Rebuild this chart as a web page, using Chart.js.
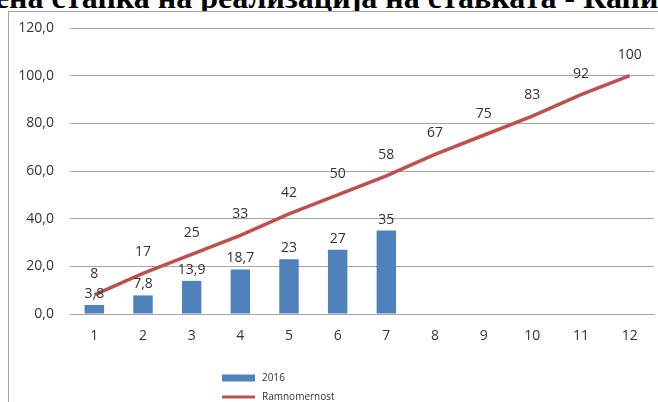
<!DOCTYPE html>
<html>
<head>
<meta charset="utf-8">
<script src="https://cdn.jsdelivr.net/npm/chart.js@4/dist/chart.umd.min.js"></script>
<style>
  html, body { margin:0; padding:0; background:#fff; }
  body { width:658px; height:402px; position:relative; overflow:hidden; }
  #title { position:absolute; left:-111px; top:-23px; white-space:nowrap; line-height:40px;
    font-family:"Liberation Serif", serif; font-weight:bold; font-size:32px; color:#000; }
  #frame { position:absolute; left:8px; top:11px; width:700px; height:420px;
    border-left:1px solid #a6a6a6; border-top:1px solid #a6a6a6; background:#fff; }
  #wrap { position:absolute; left:0; top:0; width:658px; height:402px; }
</style>
</head>
<body>
<div id="title">Остварена стапка на реализација на ставката - Капитални расходи</div>
<div id="frame"></div>
<div id="wrap"><canvas id="c"></canvas></div>
<script>
// meseci 1-12
const meseci = ['1','2','3','4','5','6','7','8','9','10','11','12'];
// realizacija 2016 (samo prvite 7 meseci)
const realizacija2016 = [3.8, 7.8, 13.9, 18.7, 23, 27, 35];
// ramnomerna dinamika
const ramnomernost = [8, 17, 25, 33, 42, 50, 58, 67, 75, 83, 92, 100];
const yTicks = [0, 20, 40, 60, 80, 100, 120];

const fmt = v => String(v).replace('.', ',');

// labeli nad stolbovite i linijata
const labeli = {
  id: 'labeli',
  afterDatasetsDraw(chart) {
    const ctx = chart.ctx;
    ctx.save();
    ctx.font = '14px "Open Sans", sans-serif';
    ctx.fillStyle = '#333';
    ctx.textAlign = 'center';
    ctx.textBaseline = 'bottom';
    chart.data.datasets.forEach((ds, di) => {
      const meta = chart.getDatasetMeta(di);
      meta.data.forEach((el, i) => {
        const off = ds.type === 'line' ? 14 : 4;
        ctx.fillText(fmt(ds.data[i]), el.x, el.y - off);
      });
    });
    ctx.restore();
  }
};

// legenda vo dva reda pod grafikot (prvo stolbovi, pa linija)
const legenda = {
  id: 'legenda',
  afterDraw(chart) {
    const ctx = chart.ctx;
    ctx.save();
    ctx.font = '10px "Open Sans", sans-serif';
    ctx.textBaseline = 'middle';
    const x = 222;
    const redovi = chart.data.datasets.slice().sort((a, b) => b.order - a.order);
    redovi.forEach((ds, i) => {
      const y = 378 + i * 19;
      if (ds.type === 'line') {
        ctx.strokeStyle = ds.borderColor;
        ctx.lineWidth = 3;
        ctx.beginPath(); ctx.moveTo(x, y); ctx.lineTo(x + 33, y); ctx.stroke();
      } else {
        ctx.fillStyle = ds.backgroundColor;
        ctx.fillRect(x, y - 3.5, 33, 7);
      }
      ctx.fillStyle = '#333';
      ctx.fillText(ds.label, x + 40, y);
    });
    ctx.restore();
  }
};

new Chart(document.getElementById('c'), {
  type: 'bar',
  data: {
    labels: meseci,
    datasets: [
      { type:'line', label:'Ramnomernost', data: ramnomernost, borderColor:'#c0504d',
        borderWidth:3.5, pointRadius:0, tension:0, order:0 },
      { type:'bar', label:'2016', data: realizacija2016, backgroundColor:'#4f81bd',
        categoryPercentage:0.8, barPercentage:0.5, order:1 }
    ]
  },
  options: {
    responsive:true, maintainAspectRatio:false, animation:false,
    layout: { padding: { top:28, right:4, left:0, bottom:0 } },
    plugins: { legend:{display:false}, tooltip:{enabled:false} },
    scales: {
      x: {
        grid: { display:false, drawTicks:false },
        border: { color:'#a6a6a6' },
        ticks: { color:'#333', padding:14, font:{ size:14, family:'"Open Sans", sans-serif' } },
        afterFit(s) { s.height = 88; }
      },
      y: {
        min:0, max:120,
        afterBuildTicks(s) { s.ticks = yTicks.map(v => ({ value:v })); },
        grid: { color:'#a6a6a6', drawTicks:false },
        border: { display:false },
        ticks: { color:'#333', padding:16, callback: v => v.toFixed(1).replace('.', ','),
          font:{ size:14, family:'"Open Sans", sans-serif' } },
        afterFit(s) { s.width = 70; }
      }
    }
  },
  plugins: [labeli, legenda]
});
</script>
</body>
</html>
